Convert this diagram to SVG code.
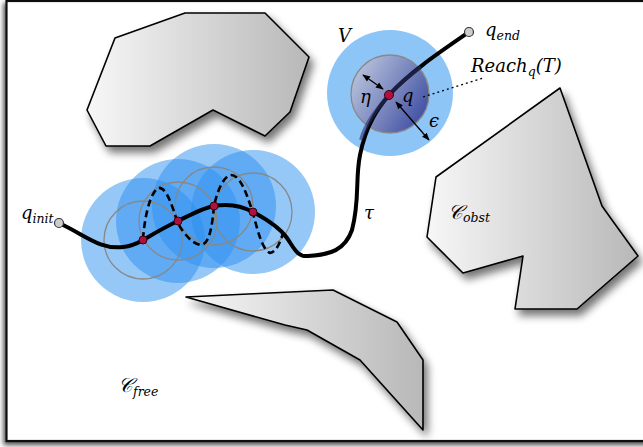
<svg xmlns="http://www.w3.org/2000/svg" width="643" height="447" viewBox="0 0 643 447">
<defs>
  <linearGradient id="obst" x1="0" y1="0" x2="1" y2="0">
    <stop offset="0" stop-color="#f7f7f7"/>
    <stop offset="1" stop-color="#b8b8b8"/>
  </linearGradient>
  <linearGradient id="inner" x1="0" y1="0.2" x2="1" y2="0.8">
    <stop offset="0" stop-color="#bcc6de"/>
    <stop offset="0.5" stop-color="#7d8ac0"/>
    <stop offset="1" stop-color="#3a4aa0"/>
  </linearGradient>
  <filter id="shadow" x="-20%" y="-20%" width="150%" height="150%">
    <feGaussianBlur in="SourceAlpha" stdDeviation="4"/>
    <feOffset dx="4" dy="6" result="b"/>
    <feComponentTransfer><feFuncA type="linear" slope="0.55"/></feComponentTransfer>
    <feMerge><feMergeNode/><feMergeNode in="SourceGraphic"/></feMerge>
  </filter>
  <filter id="fshadow" x="-5%" y="-5%" width="110%" height="110%">
    <feGaussianBlur in="SourceAlpha" stdDeviation="2.5"/>
    <feOffset dx="-2" dy="3"/>
    <feComponentTransfer><feFuncA type="linear" slope="0.7"/></feComponentTransfer>
    <feMerge><feMergeNode/><feMergeNode in="SourceGraphic"/></feMerge>
  </filter>
  <marker id="ah" viewBox="0 0 10 10" refX="9" refY="5" markerWidth="6" markerHeight="6" orient="auto-start-reverse">
    <path d="M0,1 L10,5 L0,9 Z" fill="#000"/>
  </marker>
  <style>
    .obst{fill:url(#obst);stroke:#000;stroke-width:1.6;stroke-linejoin:round;filter:url(#shadow)}
    .blob{fill:#2b8ff0;fill-opacity:0.5}
    .ring{fill:none;stroke:#888;stroke-width:1.3}
    .node{fill:#b0103c;stroke:#3a0010;stroke-width:1}
    .lbl{font-family:"DejaVu Serif","Liberation Serif",serif;font-style:italic;font-size:18px;fill:#000}
    .sub{font-size:12.5px}
    .cal{font-family:"DejaVu Serif","Noto Sans",serif;font-style:italic;font-size:20px}
  </style>
</defs>
<rect x="0" y="0" width="643" height="447" fill="#fff"/>
<rect x="6.5" y="1" width="660" height="440" fill="#fff" stroke="#111" stroke-width="2.2" filter="url(#fshadow)"/>

<g id="obstacle-top"><polygon class="obst" points="115,38 185,13 265,13 309,57 290,112 265,136 213,110 150,146 106,146 87,110"/></g>
<g id="obstacle-right"><polygon class="obst" points="560,88 602,206 612,220 638,256 577,309 515,309 523,256 463,273 427,237 436,177"/></g>
<g id="obstacle-bottom"><polygon class="obst" points="186,297 333,290 397,322 423,360 423,430 360,360 307,330 285,325"/></g>

<g id="neighborhoods">
  <circle class="blob" cx="143" cy="240" r="62"/>
  <circle class="blob" cx="178" cy="221" r="62"/>
  <circle class="blob" cx="214" cy="206" r="62"/>
  <circle class="blob" cx="253" cy="212" r="62"/>
  <circle class="ring" cx="143" cy="240" r="39"/>
  <circle class="ring" cx="178" cy="221" r="39"/>
  <circle class="ring" cx="214" cy="206" r="39"/>
  <circle class="ring" cx="253" cy="212" r="39"/>
</g>

<g id="V">
  <circle cx="390" cy="93" r="63" fill="#8ec5f7"/>
  <circle cx="390" cy="94" r="39" fill="url(#inner)" stroke="#888" stroke-width="1.3"/>
</g>

<g id="connectors">
  <path id="tau" d="M59,223 C85,235 100,250 123,247 C133,246 138,243 143,240 C155,233 165,227 178,221 C192,214 203,208 214,206 C230,203 242,206 253,212 C268,220 280,228 287,238 C294,248 297,257 308,256 C330,255 345,250 352,230 C360,200 355,180 360,155 C366,125 378,108 389,95 C410,72 440,52 469,32" fill="none" stroke="#000" stroke-width="4" stroke-linecap="round"/>
  <path id="tau-inner" d="M361,140 C366,122 378,108 389,95 C398,84 410,75 421,67" fill="none" stroke="#2d3470" stroke-width="4" opacity="0.6"/>
  <path id="perturbed" d="M143,239 C144,225 148,195 158,188 C166,186 172,205 177,221 C182,232 192,244 201,245 C210,244 212,225 214,207 C216,195 222,178 230,175 C240,174 246,192 253,213 C257,228 262,250 270,253 C277,252 281,240 283,233" fill="none" stroke="#000" stroke-width="2.6" stroke-dasharray="7,4"/>
  <line x1="363" y1="75" x2="383" y2="89" stroke="#000" stroke-width="1.3" marker-start="url(#ah)" marker-end="url(#ah)"/>
  <line x1="396" y1="102" x2="429" y2="140" stroke="#000" stroke-width="1.3" marker-start="url(#ah)" marker-end="url(#ah)"/>
  <line x1="423" y1="97" x2="483" y2="78" stroke="#000" stroke-width="1.3" stroke-dasharray="2,3"/>
</g>

<g id="nodes">
  <circle cx="59" cy="223" r="4.5" fill="#ccc" stroke="#333" stroke-width="1.2"/>
  <circle cx="469" cy="32" r="4.5" fill="#ccc" stroke="#333" stroke-width="1.2"/>
  <circle class="node" cx="143" cy="240" r="4"/>
  <circle class="node" cx="178" cy="221" r="4"/>
  <circle class="node" cx="214" cy="206" r="4"/>
  <circle class="node" cx="253" cy="212" r="4"/>
  <circle class="node" cx="389" cy="95" r="4.5"/>
</g>

<g id="labels">
  <text class="lbl" x="21" y="219">q<tspan class="sub" dy="4">init</tspan></text>
  <text class="lbl" x="485" y="36">q<tspan class="sub" dy="4">end</tspan></text>
  <text class="lbl" x="338" y="42">V</text>
  <text class="lbl" x="471" y="72">Reach<tspan class="sub" dy="4">q</tspan><tspan dy="-4">(T)</tspan></text>
  <text class="lbl" x="360" y="103">η</text>
  <text class="lbl" x="402" y="102">q</text>
  <text class="lbl" x="429" y="127">ϵ</text>
  <text class="lbl" x="364" y="219">τ</text>
  <text class="lbl" x="448" y="219"><tspan class="cal">𝒞</tspan><tspan class="sub" dy="3">obst</tspan></text>
  <text class="lbl" x="118" y="392"><tspan class="cal">𝒞</tspan><tspan class="sub" dy="4">free</tspan></text>
</g>
</svg>
